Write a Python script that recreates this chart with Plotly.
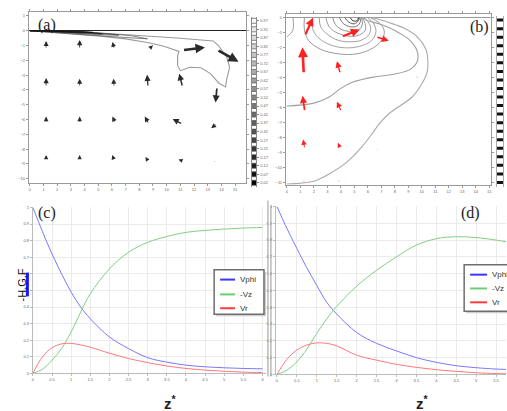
import math
import plotly.graph_objects as go

W, H = 507, 411


def PX(p):
    return p / W


def PY(p):
    return 1 - p / H


# ================= Panel (a): arrows (tail x, tail y, u, v) =================
a_x = [1.19, 3.64, 6.16, 8.71, 11.16, 13.68,
       1.19, 3.64, 6.16, 8.64, 11.16, 13.68,
       1.19, 3.64, 6.24, 8.71, 11.16, 13.68,
       1.19, 3.64, 6.16, 8.64, 11.16, 13.61]
a_y = [-1.24, -1.24, -1.24, -1.24, -1.31, -1.29,
       -3.80, -3.80, -3.80, -3.80, -3.80, -3.80,
       -6.24, -6.24, -6.24, -6.31, -6.31, -6.27,
       -8.76, -8.76, -8.76, -8.80, -8.80, -8.80]
a_u = [0.00, 0.00, -0.12, 0.29, 1.64, 1.57,
       0.00, 0.00, -0.05, -0.07, -0.24, -0.11,
       0.00, 0.00, -0.20, -0.31, -0.72, -0.43,
       0.00, 0.00, -0.14, -0.19, -0.29, -0.14]
a_v = [0.55, 0.62, 0.48, 0.26, 0.18, -0.80,
       0.60, 0.56, 0.56, 0.82, 0.89, -1.05,
       0.44, 0.44, 0.44, 0.51, 0.35, -0.31,
       0.36, 0.36, 0.36, 0.27, 0.11, -0.04]

# contour lines of panel (a)
a_outer_x = [0, 2.5, 5.0, 7.0, 8.6, 9.8, 10.9, 10.8, 10.8, 11.0, 11.7, 12.5, 13.2, 13.8, 14.3,
             14.4, 14.6, 14.4, 13.8, 13.4, 11.0, 6.6, 0]
a_outer_y = [0, -0.15, -0.35, -0.55, -0.80, -1.05, -1.40, -1.69, -2.36, -2.70, -2.47, -2.50, -2.90,
             -3.53, -3.80, -3.24, -2.47, -1.80, -1.02, -0.69, -0.51, -0.24, 0]
a_lens1_x = [0, 2, 4, 6, 7.5, 8.6, 7.5, 6, 4, 2, 0]
a_lens1_y = [0, -0.05, -0.12, -0.22, -0.35, -0.55, -0.50, -0.40, -0.28, -0.14, 0]
a_lens2_x = [0, 2, 4, 5.5, 6.5, 5.5, 4, 2, 0]
a_lens2_y = [0, -0.04, -0.10, -0.18, -0.30, -0.28, -0.20, -0.10, 0]
a_lens3_x = [0, 2, 4, 5.3, 4, 2, 0]
a_lens3_y = [0, -0.03, -0.08, -0.20, -0.17, -0.08, 0]
a_lens4_x = [0, 2, 3.5, 4.6, 3.5, 2, 0]
a_lens4_y = [0, -0.02, -0.05, -0.11, -0.11, -0.05, 0]

# colour-bar levels
cb_levels = [0.97, 0.92, 0.87, 0.82, 0.77, 0.72, 0.67, 0.62, 0.57, 0.52,
             0.47, 0.42, 0.37, 0.32, 0.27, 0.22, 0.17, 0.12, 0.07, 0.02]

# ================= Panel (b): arrows =================
b_x = [1.33, 4.04, 6.60, 9.50, 12.00, 14.60,
       1.25, 3.96, 6.70, 9.50, 12.00, 14.60,
       1.33, 4.04, 6.55, 9.30, 12.00,
       1.33, 3.96, 6.55, 9.30, 12.00,
       1.33, 3.90, 6.55]
b_y = [-1.20, -1.27, -1.27, -1.30, -1.30, -1.30,
       -3.73, -3.73, -3.84, -3.84, -3.84, -3.84,
       -6.25, -6.25, -6.20, -6.30, -6.30,
       -8.73, -8.73, -8.70, -8.70, -8.70,
       -11.07, -11.00, -11.00]
b_u = [0.61, 1.35, 0.95, 0.20, 0.10, 0.08,
       -0.09, -0.25, -0.15, 0.20, 0.10, 0.08,
       -0.17, -0.33, 0.15, 0.08, 0.06,
       -0.13, -0.17, 0.15, 0.06, 0.05,
       -0.08, -0.06, 0.06]
b_v = [1.20, 0.48, -0.26, -0.05, 0.00, 0.00,
       1.76, 0.83, 0.10, -0.15, -0.08, -0.05,
       1.05, 0.66, -0.10, -0.05, -0.03,
       0.62, 0.40, -0.10, -0.03, -0.02,
       0.22, 0.20, -0.05]

# contour lines of panel (b)
b_corner_x = [0.45, 0.45, 0.10, 0.0]
b_corner_y = [0.0, -0.8, -1.2, -1.25]
b_u1_x = [1.3, 1.3, 1.6, 2.5, 3.8, 5.2, 6.4, 7.1, 7.2, 6.8, 6.2]
b_u1_y = [0, -0.8, -1.5, -2.1, -2.4, -2.4, -2.0, -1.4, -0.8, -0.3, 0]
b_u2_x = [1.9, 1.9, 2.3, 3.2, 4.3, 5.4, 6.3, 6.6, 6.4, 6.0]
b_u2_y = [0, -0.7, -1.3, -1.8, -2.0, -1.9, -1.5, -0.9, -0.35, 0]
b_u3_x = [2.4, 2.5, 3.0, 3.8, 4.7, 5.5, 6.1, 6.2, 5.9, 5.7]
b_u3_y = [0, -0.6, -1.1, -1.5, -1.6, -1.5, -1.1, -0.6, -0.15, 0]
b_u4_x = [2.9, 3.1, 3.6, 4.4, 5.2, 5.8, 5.8, 5.6]
b_u4_y = [0, -0.55, -0.95, -1.2, -1.2, -0.85, -0.4, 0]
b_u5_x = [3.4, 3.6, 4.1, 4.8, 5.4, 5.6, 5.5]
b_u5_y = [0, -0.45, -0.8, -0.9, -0.75, -0.35, 0]
b_u6_x = [3.9, 4.2, 4.7, 5.2, 5.45, 5.4]
b_u6_y = [0, -0.4, -0.6, -0.55, -0.25, 0]
b_u7_x = [4.3, 4.6, 5.0, 5.3, 5.35]
b_u7_y = [0, -0.3, -0.4, -0.2, 0]
b_u8_x = [4.7, 4.9, 5.2, 5.3]
b_u8_y = [0, -0.2, -0.2, 0]
b_A_x = [0, 1.94, 3.17, 4.0, 4.9, 6.4, 8.0, 9.2, 9.7, 9.6, 9.0, 8.0, 7.0, 6.0, 5.6]
b_A_y = [-5.87, -5.7, -5.26, -4.7, -4.28, -3.95, -3.75, -3.4, -2.8, -2.1, -1.4, -0.85, -0.45, -0.2, 0]
b_B_x = [6.4, 7.5, 8.7, 9.7, 10.3, 10.45, 10.4, 10.0, 9.3, 7.6, 6.9, 6.35, 5.6, 4.4, 2.93, 1.92, 0]
b_B_y = [0, -0.3, -0.7, -1.3, -2.1, -2.9, -3.6, -4.4, -5.26, -6.36, -7.0, -7.68, -8.55, -9.65,
         -10.5, -10.9, -11.07]

# ================= Panels (c) and (d) =================
series_names = ["Vphi", "-Vz", "Vr"]
z_c = [0, 0.25, 0.5, 0.75, 1.0, 1.25, 1.5, 2.0, 2.5, 3.0, 3.5, 4.0, 4.5, 5.0, 5.5, 6.0]
c_vphi = [1.0, 0.855, 0.72, 0.6, 0.49, 0.40, 0.33, 0.22, 0.15, 0.095, 0.068, 0.05, 0.04, 0.034, 0.03, 0.028]
c_mvz = [0, 0.025, 0.08, 0.15, 0.25, 0.37, 0.48, 0.63, 0.73, 0.79, 0.825, 0.85, 0.862, 0.87, 0.876, 0.88]
c_vr = [0, 0.1, 0.155, 0.178, 0.181, 0.172, 0.158, 0.122, 0.09, 0.065, 0.045, 0.03, 0.02, 0.013, 0.008, 0.005]

z_d = [0, 0.25, 0.5, 0.75, 1.0, 1.25, 1.5, 2.0, 2.5, 3.0, 3.5, 4.0, 4.5, 5.0, 5.5, 5.75]
d_vphi = [1.0, 0.87, 0.75, 0.635, 0.53, 0.43, 0.36, 0.25, 0.185, 0.14, 0.1, 0.072, 0.052, 0.04, 0.032, 0.03]
d_mvz = [0, 0.025, 0.075, 0.15, 0.245, 0.33, 0.405, 0.525, 0.62, 0.70, 0.77, 0.808, 0.82, 0.815, 0.80, 0.79]
d_vr = [0, 0.09, 0.145, 0.175, 0.188, 0.185, 0.17, 0.115, 0.085, 0.06, 0.042, 0.028, 0.018, 0.01, 0.005, 0.004]

c_xticks = [0, 0.5, 1, 1.5, 2, 2.5, 3, 3.5, 4, 4.5, 5, 5.5, 6]
c_xlabels = ["0", "0.5", "1", "1.5", "2", "2.5", "3", "3.5", "4", "4.5", "5", "5.5", "6"]
d_xticks = [0, 0.5, 1, 1.5, 2, 2.5, 3, 3.5, 4, 4.5, 5, 5.5]
d_xlabels = ["0", "0.5", "1", "1.5", "2", "2.5", "3", "3.5", "4", "4.5", "5", "5.5"]
cd_yticks = [0, 0.1, 0.2, 0.3, 0.4, 0.5, 0.6, 0.7, 0.8, 0.9, 1.0]
cd_ylabels = ["0", "0.1", "0.2", "0.3", "0.4", "0.5", "0.6", "0.7", "0.8", "0.9", "1"]

a_xticks = list(range(0, 16))
a_yticks = [1, 0, -1, -2, -3, -4, -5, -6, -7, -8, -9, -10]
b_yticks = [0, -1, -2, -3, -4, -5, -6, -7, -8, -9, -10, -11]

LINE_COLORS = ["rgb(120,120,255)", "rgb(130,205,130)", "rgb(255,120,120)"]
LEGEND_COLORS = ["#3838ff", "#6ccf6c", "#ff3c3c"]

fig = go.Figure()

# ---- panel (a) contours
for xs, ys, col, w in [(a_outer_x, a_outer_y, "#9a9a9a", 1.1),
                       (a_lens1_x, a_lens1_y, "#666", 0.8),
                       (a_lens2_x, a_lens2_y, "#444", 0.8),
                       (a_lens3_x, a_lens3_y, "#222", 0.8),
                       (a_lens4_x, a_lens4_y, "#111", 0.8)]:
    fig.add_trace(go.Scatter(x=xs, y=ys, mode="lines", line=dict(color=col, width=w),
                             xaxis="x", yaxis="y", showlegend=False, hoverinfo="skip"))

# ---- panel (b) contours
b_lines = [(b_corner_x, b_corner_y, "#a0a0a0", 1.0), (b_u1_x, b_u1_y, "#9a9a9a", 1.0),
           (b_u2_x, b_u2_y, "#999", 0.9), (b_u3_x, b_u3_y, "#959595", 0.9),
           (b_u4_x, b_u4_y, "#8e8e8e", 0.9), (b_u5_x, b_u5_y, "#808080", 0.9),
           (b_u6_x, b_u6_y, "#6a6a6a", 0.9), (b_u7_x, b_u7_y, "#4a4a4a", 0.9),
           (b_u8_x, b_u8_y, "#222", 0.9), (b_A_x, b_A_y, "#a0a0a0", 1.1),
           (b_B_x, b_B_y, "#aaaaaa", 1.1)]
for xs, ys, col, w in b_lines:
    fig.add_trace(go.Scatter(x=xs, y=ys, mode="lines", line=dict(color=col, width=w, shape="spline"),
                             xaxis="x2", yaxis="y2", showlegend=False, hoverinfo="skip"))

# ---- colour bars
fig.add_trace(go.Scatter(x=[0] * len(cb_levels), y=cb_levels, mode="markers",
                         marker=dict(symbol="square", size=5, color=cb_levels,
                                     colorscale=[[0, "black"], [1, "white"]], cmin=0, cmax=1,
                                     line=dict(color="#555", width=0.7)),
                         xaxis="x3", yaxis="y3", showlegend=False, hoverinfo="skip"))
fig.add_trace(go.Scatter(x=[0] * len(cb_levels), y=cb_levels, mode="markers",
                         marker=dict(symbol="line-ew", size=5, line=dict(color="#111", width=3)),
                         xaxis="x4", yaxis="y4", showlegend=False, hoverinfo="skip"))

# ---- panels (c) and (d) curves
for ys, col in zip([c_vphi, c_mvz, c_vr], LINE_COLORS):
    fig.add_trace(go.Scatter(x=z_c, y=ys, mode="lines", line=dict(color=col, width=1, shape="spline"),
                             xaxis="x5", yaxis="y5", showlegend=False, hoverinfo="skip"))
for ys, col in zip([d_vphi, d_mvz, d_vr], LINE_COLORS):
    fig.add_trace(go.Scatter(x=z_d, y=ys, mode="lines", line=dict(color=col, width=1, shape="spline"),
                             xaxis="x6", yaxis="y6", showlegend=False, hoverinfo="skip"))

annotations = []


def add_arrows(xs, ys, us, vs, axis_x, axis_y, big_col, small_col):
    for x0, y0, u, v in zip(xs, ys, us, vs):
        mag = math.hypot(u, v)
        if mag < 0.3:
            annotations.append(dict(x=x0 + u, y=y0 + v, ax=x0, ay=y0, xref=axis_x, yref=axis_y,
                                    axref=axis_x, ayref=axis_y, text="", showarrow=True,
                                    arrowhead=0, arrowwidth=0.9, arrowcolor=small_col,
                                    standoff=0, startstandoff=0))
            continue
        w = max(0.8, min(2.6, 1.8 * mag - 0.2))
        head_len = 1.8 + 2.6 * mag
        s = head_len / (3.2 * w)
        annotations.append(dict(x=x0 + u, y=y0 + v, ax=x0, ay=y0, xref=axis_x, yref=axis_y,
                                axref=axis_x, ayref=axis_y, text="", showarrow=True,
                                arrowhead=2, arrowsize=s, arrowwidth=w, arrowcolor=big_col,
                                standoff=0, startstandoff=0))


add_arrows(a_x, a_y, a_u, a_v, "x", "y", "#2a2a2a", "#777")
add_arrows(b_x, b_y, b_u, b_v, "x2", "y2", "#ff2020", "#ffa0a0")

# panel labels
serif = "Liberation Serif"
for txt, cx, cy in [("(a)", 46, 22), ("(b)", 480, 24), ("(c)", 46, 213), ("(d)", 471, 213)]:
    annotations.append(dict(x=PX(cx), y=PY(cy), xref="paper", yref="paper", text=txt,
                            showarrow=False, font=dict(family=serif, size=16, color="#222"),
                            xanchor="center", yanchor="middle"))

# y title of (c)
annotations.append(dict(x=PX(21), y=PY(285), xref="paper", yref="paper", text="-H,G,F",
                        textangle=-90, showarrow=False,
                        font=dict(family="Liberation Sans", size=11, color="#111"),
                        xanchor="center", yanchor="middle"))
# z* labels
for cx in [170, 423]:
    annotations.append(dict(x=PX(cx), y=PY(404), xref="paper", yref="paper",
                            text="<b>z</b><sup><b>*</b></sup>", showarrow=False,
                            font=dict(family="Liberation Sans", size=15, color="#222"),
                            xanchor="center", yanchor="middle"))

shapes = []
# blue highlight bar on y title
shapes.append(dict(type="line", xref="paper", yref="paper", x0=PX(26.5), x1=PX(26.5),
                   y0=PY(273), y1=PY(297), line=dict(color="#1a1aff", width=3)))
# separator lines between (c) and (d)
shapes.append(dict(type="line", xref="paper", yref="paper", x0=PX(268), x1=PX(268),
                   y0=PY(200), y1=PY(378), line=dict(color="#aaa", width=1.2)))
shapes.append(dict(type="line", xref="paper", yref="paper", x0=PX(271), x1=PX(271),
                   y0=PY(205), y1=PY(378), line=dict(color="#999", width=1)))


# manual legends
def add_legend(left, top, right, bottom, rows_y, line_x0, line_x1, text_x):
    shapes.append(dict(type="rect", xref="paper", yref="paper", x0=PX(left + 2), x1=PX(right + 2),
                       y0=PY(bottom + 2), y1=PY(top + 2), line=dict(width=0), fillcolor="#cfcfcf"))
    shapes.append(dict(type="rect", xref="paper", yref="paper", x0=PX(left), x1=PX(right),
                       y0=PY(bottom), y1=PY(top), line=dict(color="#6e6e6e", width=1.5),
                       fillcolor="white"))
    for name, col, ry in zip(series_names, LEGEND_COLORS, rows_y):
        shapes.append(dict(type="line", xref="paper", yref="paper", x0=PX(line_x0), x1=PX(line_x1),
                           y0=PY(ry), y1=PY(ry), line=dict(color=col, width=2)))
        annotations.append(dict(x=PX(text_x), y=PY(ry), xref="paper", yref="paper", text=name,
                                showarrow=False, xanchor="left", yanchor="middle",
                                font=dict(family="Liberation Sans", size=8, color="#333")))


add_legend(214, 270, 264, 315, [280, 295, 309], 220, 235, 238)
add_legend(465, 265, 520, 312, [275, 289, 303], 471, 488, 491)

tick_font = dict(family="Liberation Sans", size=4, color="#666")
frame = dict(showline=True, linecolor="#9a9a9a", linewidth=1, mirror="ticks", ticks="outside",
             ticklen=2, tickcolor="#9a9a9a", showgrid=False, tickfont=tick_font)

fig.update_layout(
    width=W, height=H, margin=dict(l=0, r=0, t=0, b=0),
    paper_bgcolor="white", plot_bgcolor="white", showlegend=False,
    xaxis=dict(domain=[PX(28), PX(246)], range=[-0.07, 15.8], anchor="y",
               tickvals=a_xticks, zeroline=False, **frame),
    yaxis=dict(domain=[PY(182), PY(9)], range=[-10.27, 1.27], anchor="x",
               tickvals=a_yticks, zeroline=True, zerolinecolor="#222", zerolinewidth=1, **frame),
    xaxis2=dict(domain=[PX(286), PX(492)], range=[-0.074, 15.13], anchor="y2",
                tickvals=a_xticks, zeroline=False, **frame),
    yaxis2=dict(domain=[PY(184), PY(11)], range=[-11.12, 0.26], anchor="x2",
                tickvals=b_yticks, zeroline=True, zerolinecolor="#999", zerolinewidth=1, **frame),
    xaxis3=dict(domain=[PX(251.5), PX(256.5)], range=[-1, 1], anchor="y3", visible=False),
    yaxis3=dict(domain=[PY(186.3), PY(13.7)], range=[-0.005, 0.995], anchor="x3", side="right",
                tickvals=cb_levels, ticktext=[f"{v:.2f}" for v in cb_levels],
                showline=True, mirror=True, linecolor="#888", linewidth=0.8,
                ticks="outside", ticklen=2, tickcolor="#888", showgrid=False, zeroline=False,
                tickfont=tick_font),
    xaxis4=dict(domain=[PX(498), PX(504)], range=[-1, 1], anchor="y4", visible=False),
    yaxis4=dict(domain=[PY(186), PY(13)], range=[-0.005, 0.995], anchor="x4", side="right",
                showticklabels=False, showline=True, mirror=True, linecolor="#aaa",
                linewidth=0.6, showgrid=False, zeroline=False),
    xaxis5=dict(domain=[PX(32), PX(266)], range=[0, 6.09], anchor="y5",
                tickvals=c_xticks, ticktext=c_xlabels, showgrid=True, gridcolor="#ebebeb",
                gridwidth=1, showline=True, linecolor="#bbb", ticks="outside", ticklen=2,
                tickcolor="#bbb", zeroline=False, tickfont=tick_font),
    yaxis5=dict(domain=[PY(375), PY(207)], range=[0, 1.0], anchor="x5",
                tickvals=cd_yticks, ticktext=cd_ylabels, showgrid=True, gridcolor="#ebebeb",
                showline=True, linecolor="#bbb", ticks="outside", ticklen=2, tickcolor="#bbb",
                zeroline=False, tickfont=tick_font),
    xaxis6=dict(domain=[PX(276), PX(507)], range=[-0.025, 5.75], anchor="y6",
                tickvals=d_xticks, ticktext=d_xlabels, showgrid=True, gridcolor="#ebebeb",
                showline=True, linecolor="#bbb", ticks="outside", ticklen=2, tickcolor="#bbb",
                zeroline=False, tickfont=tick_font),
    yaxis6=dict(domain=[PY(376), PY(206)], range=[0, 1.0], anchor="x6",
                tickvals=cd_yticks, ticktext=cd_ylabels, showgrid=True, gridcolor="#ebebeb",
                showline=True, linecolor="#bbb", ticks="outside", ticklen=2, tickcolor="#bbb",
                zeroline=False, tickfont=tick_font),
    annotations=annotations, shapes=shapes,
)

fig.write_html("out.html", config={"displayModeBar": False},
               post_script="document.body.style.margin='0px';document.body.style.overflow='hidden';")
